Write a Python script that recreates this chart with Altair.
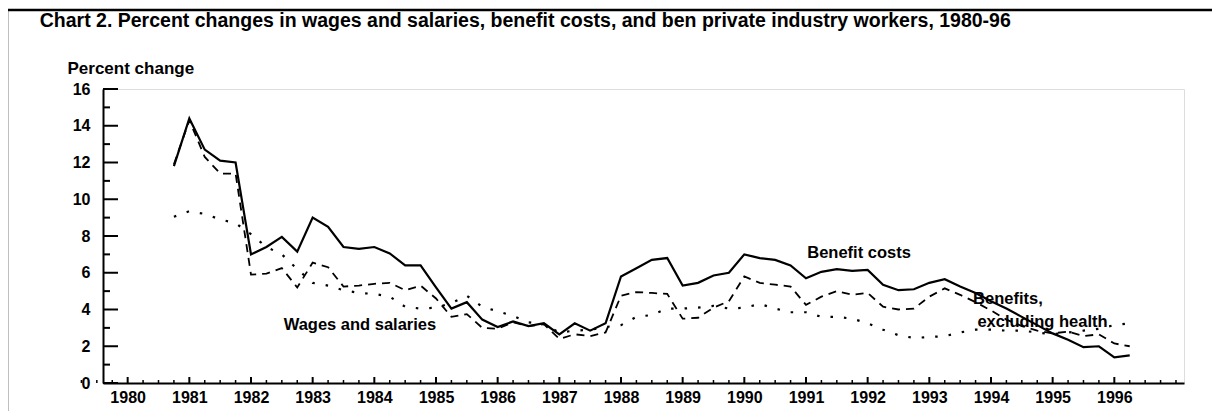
import altair as alt
import pandas as pd

# ---- data (quarterly, 12-month percent change) ----
quarters = [
    1980.75,
    1981.00, 1981.25, 1981.50, 1981.75,
    1982.00, 1982.25, 1982.50, 1982.75,
    1983.00, 1983.25, 1983.50, 1983.75,
    1984.00, 1984.25, 1984.50, 1984.75,
    1985.00, 1985.25, 1985.50, 1985.75,
    1986.00, 1986.25, 1986.50, 1986.75,
    1987.00, 1987.25, 1987.50, 1987.75,
    1988.00, 1988.25, 1988.50, 1988.75,
    1989.00, 1989.25, 1989.50, 1989.75,
    1990.00, 1990.25, 1990.50, 1990.75,
    1991.00, 1991.25, 1991.50, 1991.75,
    1992.00, 1992.25, 1992.50, 1992.75,
    1993.00, 1993.25, 1993.50, 1993.75,
    1994.00, 1994.25, 1994.50, 1994.75,
    1995.00, 1995.25, 1995.50, 1995.75,
    1996.00, 1996.25,
]

benefit_costs = [
    11.8,
    14.4, 12.7, 12.1, 12.0,
    7.0, 7.4, 7.95, 7.15,
    9.0, 8.5, 7.4, 7.3,
    7.4, 7.05, 6.4, 6.4,
    5.2, 4.05, 4.4, 3.45,
    3.05, 3.35, 3.1, 3.25,
    2.65, 3.25, 2.85, 3.25,
    5.8, 6.25, 6.7, 6.8,
    5.3, 5.45, 5.85, 6.0,
    7.0, 6.8, 6.7, 6.4,
    5.7, 6.05, 6.2, 6.1,
    6.15, 5.35, 5.05, 5.1,
    5.45, 5.65, 5.25, 4.9,
    4.45, 4.05, 3.6, 3.15,
    2.7, 2.35, 1.95, 2.0,
    1.4, 1.5,
]

benefits_ex_health = [
    11.9,
    14.3, 12.3, 11.4, 11.4,
    5.9, 5.95, 6.25, 5.2,
    6.55, 6.3, 5.25, 5.3,
    5.4, 5.45, 5.05, 5.3,
    4.6, 3.6, 3.75, 3.0,
    2.95, 3.3, 3.1, 3.2,
    2.4, 2.65, 2.55, 2.75,
    4.75, 4.95, 4.9, 4.85,
    3.5, 3.55, 4.1, 4.45,
    5.8, 5.45, 5.35, 5.25,
    4.25, 4.7, 5.0, 4.8,
    4.9, 4.15, 4.0, 4.05,
    4.7, 5.15, 4.8, 4.4,
    3.95, 3.45, 3.1, 2.85,
    2.7, 2.8, 2.55, 2.65,
    2.15, 2.0,
]

wages_salaries = [
    9.05,
    9.35, 9.2, 8.9, 8.7,
    8.1, 7.4, 7.0, 6.2,
    5.45, 5.3, 5.05, 4.9,
    4.85, 4.7, 4.15, 4.05,
    4.1, 4.35, 4.75, 4.15,
    3.9, 3.65, 3.3, 3.2,
    2.75, 2.85, 2.9, 3.05,
    3.15, 3.6, 3.7, 4.05,
    4.05, 4.1, 4.2, 4.05,
    4.1, 4.3, 4.05, 3.85,
    3.85, 3.6, 3.6, 3.5,
    3.25, 2.9, 2.6, 2.45,
    2.5, 2.55, 2.75, 2.9,
    2.9, 2.85, 2.85, 2.75,
    2.65, 2.75, 2.85, 2.95,
    3.15, 3.25,
]

year_ticks = list(range(1980, 1997))
minor_x_ticks = [y + q for y in range(1979, 1997) for q in (0.25, 0.5, 0.75)] + [1997.0]
y_major = [0, 2, 4, 6, 8, 10, 12, 14, 16]
y_minor = [1, 3, 5, 7, 9, 11, 13, 15]

label_text = ["Benefit costs", "Wages and salaries", "Benefits,", "excluding health"]
label_x = [1991.02, 1982.53, 1993.71, 1993.78]
label_y = [7.07, 3.15, 4.57, 3.33]

TITLE = ("Chart 2. Percent changes in wages and salaries, benefit costs, and ben "
         "private industry workers, 1980-96")

FONT = "Liberation Sans"

# ---- tables ----
SER_BC, SER_BEH, SER_WS = "Benefit costs", "Benefits, excluding health", "Wages and salaries"
df = pd.concat([
    pd.DataFrame({"quarter": quarters, "value": benefit_costs, "series": SER_BC}),
    pd.DataFrame({"quarter": quarters, "value": benefits_ex_health, "series": SER_BEH}),
    pd.DataFrame({"quarter": quarters, "value": wages_salaries, "series": SER_WS}),
])
labels_df = pd.DataFrame({"quarter": label_x, "value": label_y, "text": label_text})
xmaj_df = pd.DataFrame({"quarter": year_ticks})
xmin_df = pd.DataFrame({"quarter": minor_x_ticks})
ymaj_df = pd.DataFrame({"value": y_major})
ymin_df = pd.DataFrame({"value": y_minor})

W, H = 1081, 294
xscale = alt.Scale(domain=[1979.6, 1997.13], nice=False, zero=False)
yscale = alt.Scale(domain=[0, 16], nice=False, zero=True)

xaxis = alt.Axis(values=year_ticks, format="d", ticks=False, grid=False,
                 domainColor="black", domainWidth=2, labelFont=FONT,
                 labelFontSize=16, labelFontWeight="bold", labelColor="black",
                 labelPadding=6, labelFlush=False, labelOverlap=False, title=None)
yaxis = alt.Axis(values=y_major, ticks=False, grid=False, domainColor="black",
                 domainWidth=2, labelFont=FONT, labelFontSize=16,
                 labelFontWeight="bold", labelColor="black", labelPadding=13,
                 labelFlush=False, labelOverlap=False,
                 title="Percent change", titleAngle=0, titleAlign="left",
                 titleBaseline="middle", titleX=-36, titleY=-21, titleFont=FONT,
                 titleFontSize=17, titleFontWeight="bold", titleColor="black")

X = alt.X("quarter:Q", scale=xscale, axis=xaxis)
Y = alt.Y("value:Q", scale=yscale, axis=yaxis)

base = alt.Chart(df)
bc = base.transform_filter(alt.datum.series == SER_BC).mark_line(
    color="black", strokeWidth=2.2).encode(x=X, y=Y)
beh = base.transform_filter(alt.datum.series == SER_BEH).mark_line(
    color="black", strokeWidth=1.8, strokeDash=[8, 6]).encode(x=X, y=Y)
ws = base.transform_filter(alt.datum.series == SER_WS).mark_line(
    color="black", strokeWidth=2.2, strokeDash=[2.5, 11], strokeCap="butt").encode(x=X, y=Y)

texts = alt.Chart(labels_df).mark_text(
    align="left", baseline="middle", font=FONT, fontSize=16.5, fontWeight="bold",
    color="black").encode(x=X, y=Y, text="text:N")

ytick_major = alt.Chart(ymaj_df).mark_rule(color="black", strokeWidth=2).encode(
    y=Y, x=alt.value(0), x2=alt.value(15))
ytick_minor = alt.Chart(ymin_df).mark_rule(color="black", strokeWidth=2).encode(
    y=Y, x=alt.value(0), x2=alt.value(7))
xtick_major = alt.Chart(xmaj_df).mark_rule(color="black", strokeWidth=2).encode(
    x=X, y=alt.value(H), y2=alt.value(H - 6))
xtick_minor = alt.Chart(xmin_df).mark_rule(color="black", strokeWidth=1.5).encode(
    x=X, y=alt.value(H), y2=alt.value(H - 3))

frame_df = pd.DataFrame({"k": [0]})
frame_left = alt.Chart(frame_df).mark_rule(color="black", strokeWidth=2.5).encode(
    x=alt.value(-96), y=alt.value(-79), y2=alt.value(340))
frame_top = alt.Chart(frame_df).mark_rule(color="black", strokeWidth=2.5).encode(
    x=alt.value(-96), x2=alt.value(1130), y=alt.value(-79))

chart = alt.layer(
    frame_left, frame_top, ytick_major, ytick_minor, xtick_major, xtick_minor,
    ws, beh, bc, texts
).properties(
    width=W, height=H,
    title=alt.TitleParams(TITLE, anchor="start", dx=34, dy=23, font=FONT, fontSize=19.5,
                          fontWeight="bold", color="black", offset=0),
    autosize=alt.AutoSizeParams(type="none"),
    padding={"left": 95, "top": 81, "right": 28, "bottom": 28},
).configure_view(stroke="black", strokeWidth=2).configure(background="white")

chart.save("out.html", embed_options={"renderer": "svg", "actions": False})
